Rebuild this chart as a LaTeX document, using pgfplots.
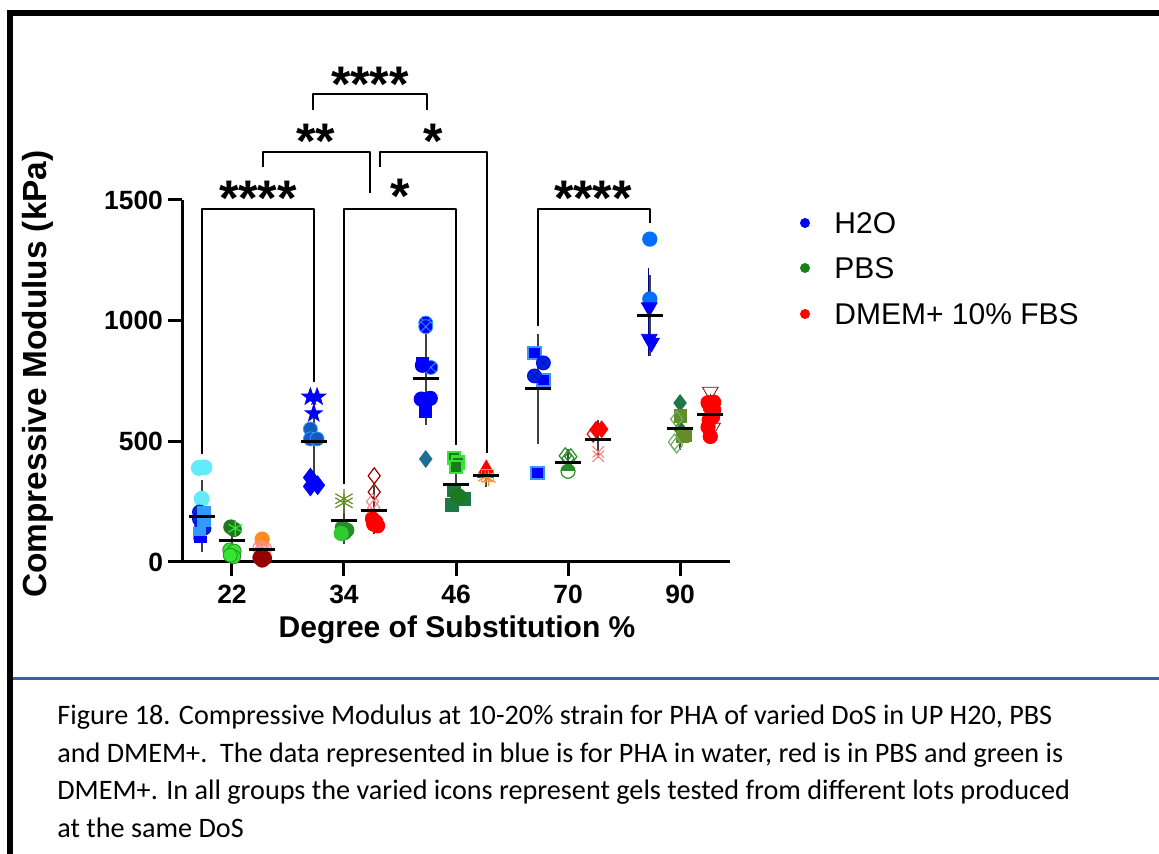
\documentclass[border=0pt]{standalone}
\usepackage{fontspec}
\setmainfont{Liberation Sans}
\newfontfamily\capfont{Carlito}
\usepackage{pgfplots}
\pgfplotsset{compat=1.18}
\usetikzlibrary{plotmarks}
\definecolor{hblue}{RGB}{0,0,255}
\definecolor{hdark}{RGB}{0,40,200}
\definecolor{hlight}{RGB}{51,153,255}
\definecolor{hcyan}{RGB}{100,235,250}
\definecolor{hteal}{RGB}{20,90,190}
\definecolor{hsky}{RGB}{0,110,255}
\definecolor{tealdia}{RGB}{30,110,150}
\definecolor{pdark}{RGB}{30,120,30}
\definecolor{pbright}{RGB}{50,230,50}
\definecolor{polive}{RGB}{100,140,40}
\definecolor{pgreen}{RGB}{40,140,40}
\definecolor{pteal}{RGB}{30,120,70}
\definecolor{dred}{RGB}{255,0,0}
\definecolor{dmaroon}{RGB}{150,0,0}
\definecolor{dorange}{RGB}{255,140,30}
\definecolor{dpink}{RGB}{255,140,140}
\definecolor{captionblue}{RGB}{62,96,168}
\definecolor{legblue}{RGB}{0,0,255}
\definecolor{leggreen}{RGB}{26,128,26}
\definecolor{legred}{RGB}{255,0,0}
\pgfdeclareplotmark{fstar}{%
  \pgfpathmoveto{\pgfpointpolar{90}{\pgfplotmarksize}}%
  \pgfpathlineto{\pgfpointpolar{126}{0.4\pgfplotmarksize}}%
  \pgfpathlineto{\pgfpointpolar{162}{\pgfplotmarksize}}%
  \pgfpathlineto{\pgfpointpolar{198}{0.4\pgfplotmarksize}}%
  \pgfpathlineto{\pgfpointpolar{234}{\pgfplotmarksize}}%
  \pgfpathlineto{\pgfpointpolar{270}{0.4\pgfplotmarksize}}%
  \pgfpathlineto{\pgfpointpolar{306}{\pgfplotmarksize}}%
  \pgfpathlineto{\pgfpointpolar{342}{0.4\pgfplotmarksize}}%
  \pgfpathlineto{\pgfpointpolar{18}{\pgfplotmarksize}}%
  \pgfpathlineto{\pgfpointpolar{54}{0.4\pgfplotmarksize}}%
  \pgfpathclose\pgfusepathqfillstroke}
\pgfplotsset{
  pt/.style={only marks, mark size=3.5pt, mark options={solid, line width=0.6pt}},
  meanbar/.style={only marks, mark=-, mark size=6.5pt, mark options={black, line width=1.5pt}},
  sdbar/.style={draw=none, mark=none, error bars/.cd, y dir=both, y explicit,
     error bar style={draw=black!75, line width=0.8pt}, error mark options={draw=black!75, mark size=3.5pt, line width=0.8pt}},
}
\begin{document}
\begin{tikzpicture}[x=0.5pt,y=0.5pt]
\useasboundingbox (0,0) rectangle (1159,854);
% frame
\fill[black] (7,838) rectangle (1159,844);
\fill[black] (7,0) rectangle (13,844);
\fill[captionblue] (13,173.5) rectangle (1159,176.5);
\begin{axis}[
  at={(91pt,146pt)}, anchor=south west,
  scale only axis, width=274pt, height=181pt,
  xmin=-0.446, xmax=4.446, ymin=0, ymax=1500,
  axis lines=left, axis line style={-, line width=1.5pt},
  clip=false,
  xtick={0,1,2,3,4}, xticklabels={22,34,46,70,90},
  ytick={0,500,1000,1500},
  tick align=outside, major tick length=7pt,
  tick style={line width=1.5pt, black},
  /pgf/number format/assume math mode=true,
  /pgf/number format/set thousands separator={},
  ticklabel style={font=\bfseries\fontsize{13.2}{15}\selectfont},
  yticklabel style={xshift=1pt},
  xticklabel style={yshift=-1pt},
]
% ---------- DoS 22 ----------
\addplot[pt, mark=*, color=hcyan, mark size=3.7pt] coordinates {(-0.295,390)(-0.245,392)(-0.27,262)};
\addplot[pt, mark=*, color=hdark, mark options={fill=hdark, draw=hblue}] coordinates {(-0.29,207)(-0.29,178)(-0.27,150)(-0.25,140)};
\addplot[pt, mark=square*, color=hlight, mark size=3pt] coordinates {(-0.25,205)(-0.25,172)(-0.29,118)};
\addplot[pt, mark=square*, color=hblue, mark size=3pt, mark options={yscale=0.5}] coordinates {(-0.28,95)};
\addplot[pt, mark=*, color=pdark] coordinates {(-0.01,145)(0.02,135)};
\addplot[pt, mark=asterisk, color=pbright, mark size=4pt] coordinates {(0.03,140)};
\addplot[pt, mark=*, mark options={fill=pbright, draw=pgreen}] coordinates {(-0.02,50)(0.02,45)(0.015,22)(-0.015,28)};
\addplot[pt, mark=*, color=dorange] coordinates {(0.27,95)};
\addplot[pt, mark=otimes, color=dpink] coordinates {(0.25,57)(0.29,54)(0.27,48)};
\addplot[pt, mark=*, color=dmaroon] coordinates {(0.25,18)(0.29,16)(0.27,8)};
% ---------- DoS 34 ----------
\addplot[pt, mark=fstar, color=hblue, mark size=4.2pt] coordinates {(0.70,684)(0.76,684)(0.73,615)};
\addplot[pt, mark=*, mark options={fill=hteal, draw=hlight}] coordinates {(0.70,551)(0.70,510)(0.76,510)};
\addplot[pt, mark=diamond*, color=hblue, mark size=4.5pt] coordinates {(0.70,350)(0.70,313)(0.765,318)};
\addplot[pt, mark=asterisk, color=polive, mark size=5pt] coordinates {(1.0,262)(1.0,245)};
\addplot[pt, mark=*, color=pgreen] coordinates {(0.985,142)(1.025,132)(1.005,122)};
\addplot[pt, mark=*, color=pbright!70!pgreen] coordinates {(0.975,118)};
\addplot[pt, mark=diamond, color=dmaroon, mark size=4pt] coordinates {(1.27,357)(1.27,290)};
\addplot[pt, mark=diamond, color=dpink, mark size=4pt] coordinates {(1.255,250)(1.265,225)(1.245,190)};
\addplot[pt, mark=*, color=dred] coordinates {(1.255,178)(1.285,165)(1.30,150)(1.265,157)};
% ---------- DoS 46 ----------
\addplot[pt, mark=otimes*, mark options={fill=hblue, draw=hlight}] coordinates {(1.73,990)(1.73,975)(1.775,806)};
\addplot[pt, mark=*, color=hblue] coordinates {(1.70,815)(1.69,675)(1.77,678)};
\addplot[pt, mark=square*, color=hblue, mark size=3pt] coordinates {(1.70,822)(1.73,625)};
\addplot[pt, mark=diamond*, color=tealdia, mark size=4pt] coordinates {(1.73,427)};
\addplot[pt, mark=square*, mark size=3pt, mark options={fill=pdark, draw=pbright, line width=1.2pt}] coordinates {(1.98,430)(2.02,413)(2.0,393)};
\addplot[pt, mark=square*, color=pteal, mark size=3.2pt] coordinates {(1.98,298)(2.07,262)(1.96,235)};
\addplot[pt, mark=*, color=pdark, mark size=3.8pt] coordinates {(2.02,272)};
\addplot[pt, mark=triangle*, color=dred, mark size=4pt] coordinates {(2.27,387)(2.26,368)};
\addplot[pt, mark=asterisk, color=dorange, mark size=4pt] coordinates {(2.26,352)(2.29,346)};
\addplot[pt, mark=square, color=dpink, mark size=3pt] coordinates {(2.28,360)};
% ---------- DoS 70 ----------
\addplot[pt, mark=square*, mark size=3.2pt, mark options={fill=hblue, draw=hlight, line width=1pt}] coordinates {(2.70,866)(2.78,754)(2.73,369)};
\addplot[pt, mark=otimes*, mark options={fill=hdark, draw=hblue}] coordinates {(2.78,825)(2.70,771)};
\addplot[pt, mark=diamond, color=pgreen, mark size=4pt] coordinates {(2.975,440)(3.025,436)(3.0,430)};
\addplot[pt, mark=halfcircle*, color=pgreen] coordinates {(3.0,376)};
\addplot[pt, mark=diamond*, color=dred, mark size=4pt] coordinates {(3.25,548)(3.30,550)};
\addplot[pt, mark=diamond, color=dred, mark size=4pt] coordinates {(3.225,530)};
\addplot[pt, mark=x, color=dpink, mark size=4pt] coordinates {(3.27,456)(3.27,438)};
% ---------- DoS 90 ----------
\addplot[pt, mark=*, color=hsky] coordinates {(3.73,1338)(3.73,1090)};
\addplot[pt, mark=triangle*, color=hblue, mark size=4.5pt, mark options={rotate=180}] coordinates {(3.725,1055)(3.725,925)(3.745,908)};
\addplot[pt, mark=diamond*, color=pteal, mark size=4pt] coordinates {(4.0,659)(4.0,551)};
\addplot[pt, mark=square*, color=polive, mark size=3pt] coordinates {(4.005,605)(4.02,520)(4.05,525)};
\addplot[pt, mark=diamond, color=pgreen!70, mark size=4pt] coordinates {(3.97,592)(3.95,497)(3.97,485)};
\addplot[pt, mark=triangle, color=dmaroon, mark size=4.5pt, mark options={rotate=180}] coordinates {(4.27,705)(4.29,556)};
\addplot[pt, mark=*, color=dred] coordinates {(4.25,660)(4.30,662)(4.27,640)(4.26,588)(4.29,600)(4.25,559)(4.27,520)(4.30,630)};
% ---------- SD and means ----------
\addplot[sdbar] coordinates {
 (-0.27,190) +- (0,120)
 (0,87) +- (0,55)
 (0.27,50) +- (0,35)
 (0.73,500) +- (0,151)
 (1.0,170) +- (0,65)
 (1.27,215) +- (0,70)
 (1.73,762) +- (0,166)
 (2.0,323) +- (0,75)
 (2.27,358) +- (0,20)
 (2.73,717) +- (0,199)
 (3.0,414) +- (0,25)
 (3.27,508) +- (0,50)
 (3.73,1020) +- (0,139)
 (4.0,555) +- (0,62)
 (4.27,613) +- (0,55)
};
\addplot[draw=none, mark=none, error bars/.cd, y dir=both, y explicit,
  error bar style={draw=hblue!60!black, line width=0.5pt}, error mark options={draw=hblue!60!black, mark size=1.5pt, line width=0.5pt}]
  coordinates {(3.722,1035) +- (0,170)};
\addplot[meanbar] coordinates {
 (-0.27,190)(0,87)(0.27,50)(0.73,500)(1.0,170)(1.27,215)(1.73,762)(2.0,323)(2.27,358)
 (2.73,717)(3.0,414)(3.27,508)(3.73,1020)(4.0,555)(4.27,613)};
% ---------- significance brackets ----------
\begin{scope}[line width=1.2pt, line join=round]
\draw (-0.268,447.5) -- (-0.268,1463) -- (0.732,1463) -- (0.732,746);
\draw (1.0,323) -- (1.0,1463) -- (2.0,1463) -- (2.0,485);
\draw (0.277,1637) -- (0.277,1699) -- (1.232,1699) -- (1.232,1529);
\draw (1.321,1637) -- (1.321,1699) -- (2.277,1699) -- (2.277,452);
\draw (0.723,1873) -- (0.723,1939) -- (1.741,1939) -- (1.741,1873);
\draw (2.732,978) -- (2.732,1463) -- (3.732,1463) -- (3.732,1405);
\end{scope}
\begin{scope}[every node/.style={anchor=base, inner sep=0pt, font=\bfseries\fontsize{25}{25}\selectfont}]
\node at (0.232,1436) {****};
\node at (1.5,1444) {*};
\node at (0.75,1672) {**};
\node at (1.795,1672) {*};
\node at (1.232,1908) {****};
\node at (3.223,1436) {****};
\end{scope}
\end{axis}
% axis titles
\node[rotate=90, font=\bfseries\fontsize{16.7}{20}\selectfont] at (38,480) {Compressive Modulus (kPa)};
\node[font=\bfseries\fontsize{15}{18}\selectfont] at (457,224) {Degree of Substitution \%};
% legend
\fill[legblue] (805,631) circle (2.5pt);
\fill[leggreen] (805,586) circle (2.5pt);
\fill[legred] (805,540) circle (2.5pt);
\begin{scope}[every node/.style={anchor=base west, inner sep=0pt, font=\fontsize{15}{18}\selectfont}]
\node at (834,620) {H2O};
\node at (834,575) {PBS};
\node at (834,529) {DMEM+ 10\% FBS};
\end{scope}
% caption
\begin{scope}[every node/.style={anchor=base west, inner sep=0pt, font=\capfont\fontsize{14.1}{16}\selectfont}]
\node at (57,129) {Figure 18. Compressive Modulus at 10-20\% strain for PHA of varied DoS in UP H20, PBS};
\node at (57,91.5) {and DMEM+.\ \ The data represented in blue is for PHA in water, red is in PBS and green is};
\node at (57,54) {DMEM+. In all groups the varied icons represent gels tested from different lots produced};
\node at (57,16.5) {at the same DoS};
\end{scope}
\end{tikzpicture}
\end{document}
